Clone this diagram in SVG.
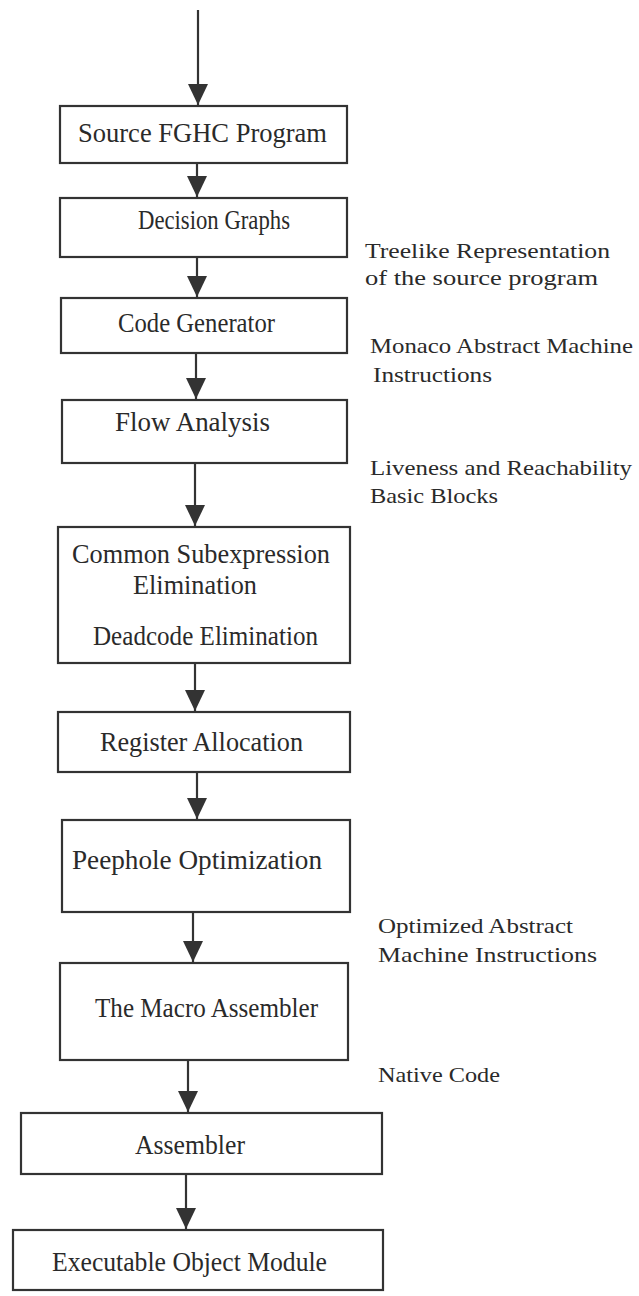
<svg xmlns="http://www.w3.org/2000/svg" width="639" height="1296" viewBox="0 0 639 1296">
<style>
.box{fill:#fff;stroke:#333;stroke-width:2.2}
.lbl{font-family:"Liberation Serif","Times New Roman",serif;font-size:27px;fill:#2a2a2a}
.side{font-family:"Liberation Serif","Times New Roman",serif;font-size:21px;fill:#2a2a2a}
.conn{stroke:#333;stroke-width:2.2;fill:none;marker-end:url(#ah)}
</style>
<defs>
<marker id="ah" markerUnits="userSpaceOnUse" markerWidth="20" markerHeight="21" refX="21" refY="10" orient="auto">
<path d="M0,0 L21,10 L0,20 z" fill="#333"/>
</marker>
</defs>
<rect width="639" height="1296" fill="#fff"/>
<g id="connectors">
<line class="conn" x1="198" y1="10" x2="198" y2="105"/>
<line class="conn" x1="197" y1="163" x2="197" y2="197"/>
<line class="conn" x1="197" y1="257" x2="197" y2="297"/>
<line class="conn" x1="196" y1="353" x2="196" y2="399"/>
<line class="conn" x1="195" y1="463" x2="195" y2="526"/>
<line class="conn" x1="195" y1="663" x2="195" y2="711"/>
<line class="conn" x1="197" y1="772" x2="197" y2="819"/>
<line class="conn" x1="193" y1="912" x2="193" y2="962"/>
<line class="conn" x1="188" y1="1060" x2="188" y2="1112"/>
<line class="conn" x1="186" y1="1174" x2="186" y2="1229"/>
</g>
<g id="n1"><rect class="box" x="60" y="106" width="287" height="57"/><text class="lbl" x="78" y="142" textLength="249" lengthAdjust="spacingAndGlyphs">Source FGHC Program</text></g>
<g id="n2"><rect class="box" x="60" y="198" width="287" height="59"/><text class="lbl" x="138" y="229" textLength="152" lengthAdjust="spacingAndGlyphs">Decision Graphs</text></g>
<g id="n3"><rect class="box" x="61" y="298" width="286" height="55"/><text class="lbl" x="118" y="332" textLength="157" lengthAdjust="spacingAndGlyphs">Code Generator</text></g>
<g id="n4"><rect class="box" x="62" y="400" width="285" height="63"/><text class="lbl" x="115" y="431" textLength="155" lengthAdjust="spacingAndGlyphs">Flow Analysis</text></g>
<g id="n5"><rect class="box" x="58" y="527" width="292" height="136"/>
<text class="lbl" x="72" y="563" font-size="25" textLength="258" lengthAdjust="spacingAndGlyphs">Common Subexpression</text>
<text class="lbl" x="133" y="594" font-size="25" textLength="124" lengthAdjust="spacingAndGlyphs">Elimination</text>
<text class="lbl" x="93" y="645" textLength="225" lengthAdjust="spacingAndGlyphs">Deadcode Elimination</text></g>
<g id="n6"><rect class="box" x="58" y="712" width="292" height="60"/><text class="lbl" x="100" y="751" textLength="203" lengthAdjust="spacingAndGlyphs">Register Allocation</text></g>
<g id="n7"><rect class="box" x="62" y="820" width="288" height="92"/><text class="lbl" x="72" y="869" textLength="250" lengthAdjust="spacingAndGlyphs">Peephole Optimization</text></g>
<g id="n8"><rect class="box" x="60" y="963" width="288" height="97"/><text class="lbl" x="95" y="1017" textLength="223" lengthAdjust="spacingAndGlyphs">The Macro Assembler</text></g>
<g id="n9"><rect class="box" x="21" y="1113" width="361" height="61"/><text class="lbl" x="135" y="1154" textLength="110" lengthAdjust="spacingAndGlyphs">Assembler</text></g>
<g id="n10"><rect class="box" x="13" y="1230" width="370" height="60"/><text class="lbl" x="52" y="1271" textLength="275" lengthAdjust="spacingAndGlyphs">Executable Object Module</text></g>
<g id="annotations">
<text class="side" x="365" y="258" textLength="245" lengthAdjust="spacingAndGlyphs">Treelike Representation</text>
<text class="side" x="365" y="285" font-size="23" textLength="233" lengthAdjust="spacingAndGlyphs">of the source program</text>
<text class="side" x="370" y="353" textLength="263" lengthAdjust="spacingAndGlyphs">Monaco Abstract Machine</text>
<text class="side" x="373" y="382" textLength="119" lengthAdjust="spacingAndGlyphs">Instructions</text>
<text class="side" x="370" y="475" textLength="262" lengthAdjust="spacingAndGlyphs">Liveness and Reachability</text>
<text class="side" x="370" y="503" textLength="128" lengthAdjust="spacingAndGlyphs">Basic Blocks</text>
<text class="side" x="378" y="933" textLength="195" lengthAdjust="spacingAndGlyphs">Optimized Abstract</text>
<text class="side" x="378" y="962" textLength="219" lengthAdjust="spacingAndGlyphs">Machine Instructions</text>
<text class="side" x="378" y="1082" textLength="122" lengthAdjust="spacingAndGlyphs">Native Code</text>
</g>
</svg>
